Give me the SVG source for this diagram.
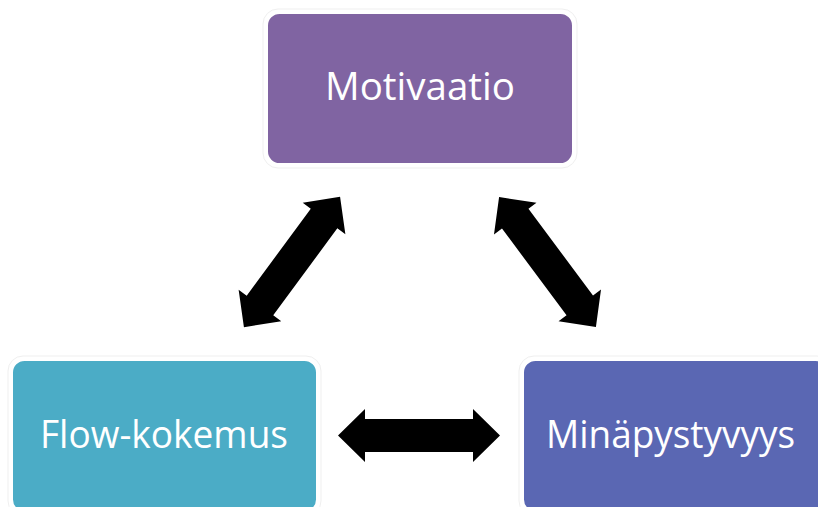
<svg xmlns="http://www.w3.org/2000/svg" width="818" height="507" viewBox="0 0 818 507">
  <style>
    .box { stroke: #ffffff; stroke-width: 3; }
    .halo { fill: none; stroke: #efefef; stroke-width: 1; }
    .label { font-family: "Open Sans", "Noto Sans", "Liberation Sans", sans-serif; font-size: 38px; fill: #ffffff; text-anchor: middle; }
    .arrow { fill: #000000; }
  </style>
  <defs>
    <path id="dblArrow" d="M-81,0 L-54,-26.5 L-54,-16.5 L54,-16.5 L54,-26.5 L81,0 L54,26.5 L54,16.5 L-54,16.5 L-54,26.5 Z"/>
  </defs>
  <rect width="818" height="507" fill="#ffffff"/>

  <g id="node-motivaatio">
    <rect class="halo" x="263" y="9" width="314" height="159" rx="15"/>
    <rect class="box" x="266.5" y="12.5" width="307" height="152" rx="13" fill="#8064A2"/>
    <text class="label" x="420" y="100" textLength="190" lengthAdjust="spacingAndGlyphs">Motivaatio</text>
  </g>

  <g id="node-flow">
    <rect class="halo" x="8" y="356" width="313" height="160" rx="15"/>
    <rect class="box" x="11.5" y="359.5" width="306" height="153" rx="13" fill="#4BACC6"/>
    <text class="label" x="164" y="448" textLength="248" lengthAdjust="spacingAndGlyphs">Flow-kokemus</text>
  </g>

  <g id="node-minapystyvyys">
    <rect class="halo" x="519" y="356" width="313" height="160" rx="15"/>
    <rect class="box" x="522.5" y="359.5" width="306" height="153" rx="13" fill="#5A67B3"/>
    <text class="label" x="670.5" y="448" textLength="249" lengthAdjust="spacingAndGlyphs">Minäpystyvyys</text>
  </g>

  <g id="connectors">
    <use href="#dblArrow" class="arrow" transform="translate(292,262) rotate(-53.6)"/>
    <use href="#dblArrow" class="arrow" transform="translate(547.5,262) rotate(53.3)"/>
    <use href="#dblArrow" class="arrow" transform="translate(419,435.5)"/>
  </g>
</svg>
